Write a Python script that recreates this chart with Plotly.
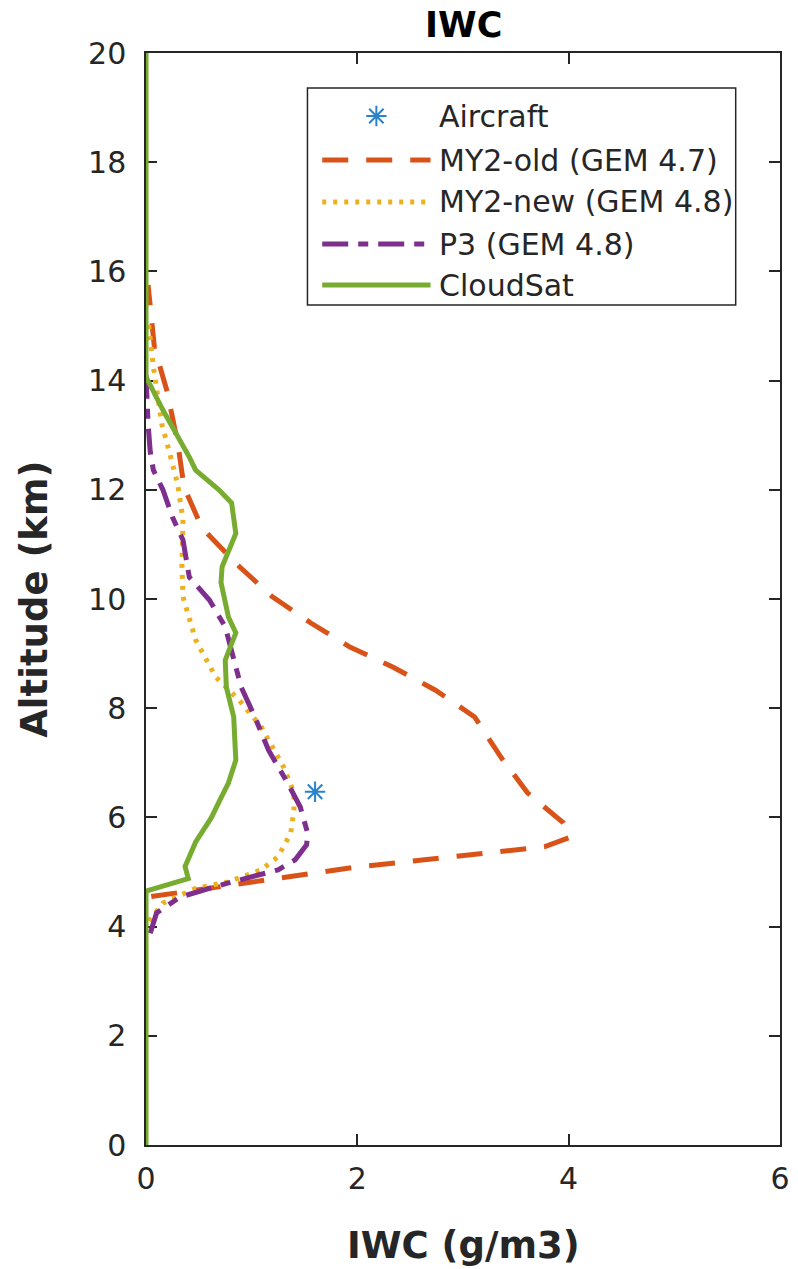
import plotly.graph_objects as go

# ---- vertical IWC profiles (altitude in km, IWC in g/m3) ----
cloudsat_alt = [0, 4.65, 4.88, 5.1, 5.55, 6.0, 6.32, 6.63, 7.05, 7.84, 8.39, 8.88,
                9.38, 9.67, 10.3, 10.59, 11.2, 11.76, 12.0, 12.36, 12.6, 13.46, 14.07, 20]
cloudsat_iwc = [0, 0, 0.40, 0.37, 0.47, 0.62, 0.70, 0.78, 0.85, 0.83, 0.76, 0.75,
                0.85, 0.78, 0.71, 0.72, 0.85, 0.81, 0.69, 0.47, 0.41, 0.16, 0.0, 0]

my2old_alt = [4.55, 4.85, 4.98, 5.09, 5.18, 5.28, 5.37, 5.46, 5.64, 5.9, 6.45, 7.1,
              7.84, 8.33, 8.75, 9.12, 9.56, 10.05, 10.6, 11.3, 12.05, 12.86, 13.8, 14.6, 15.75]
my2old_iwc = [0.05, 1.09, 1.56, 1.99, 2.43, 2.86, 3.33, 3.77, 4.02, 3.95, 3.61, 3.36,
              3.11, 2.74, 2.34, 1.93, 1.56, 1.19, 0.88, 0.53, 0.36, 0.30, 0.20, 0.08, 0.02]

my2new_alt = [4.1, 4.43, 4.7, 4.82, 5.04, 5.28, 5.71, 6.14, 6.45, 6.93, 7.66, 8.15,
              8.57, 9.25, 10.04, 10.6, 11.45, 12.1, 12.7, 13.2, 14.25, 15.1]
my2new_iwc = [0.03, 0.16, 0.47, 0.78, 1.09, 1.25, 1.37, 1.40, 1.40, 1.30, 1.09, 0.88,
              0.66, 0.47, 0.35, 0.34, 0.35, 0.30, 0.22, 0.15, 0.07, 0.02]

p3_alt = [3.88, 4.25, 4.54, 4.8, 5.04, 5.22, 5.5, 5.71, 6.19, 6.63, 7.23, 7.84,
          8.39, 9.07, 9.49, 9.98, 10.4, 11.08, 11.5, 12.0, 12.36, 12.7, 13.2, 14.1]
p3_iwc = [0.04, 0.10, 0.32, 0.78, 1.25, 1.41, 1.52, 1.53, 1.46, 1.34, 1.16, 1.03,
          0.90, 0.81, 0.75, 0.60, 0.41, 0.35, 0.25, 0.16, 0.07, 0.04, 0.02, 0.0]

aircraft_alt = [6.47]
aircraft_iwc = [1.6]

x_ticks = [0, 2, 4, 6]
y_ticks = list(range(0, 21, 2))

series_names = ["Aircraft", "MY2-old (GEM 4.7)", "MY2-new (GEM 4.8)", "P3 (GEM 4.8)", "CloudSat"]

# ---- styling ----
BLUE, ORANGE, YELLOW, PURPLE, GREEN = "#2a82cc", "#D95319", "#EDB120", "#7E2F8E", "#77AC30"
AXIS = "#262626"
FONT = "DejaVu Sans"
W, H = 798, 1269
ML, MR, MT, MB = 146, 8, 53, 124
DASH_OLD = "26px,18px"
DASH_NEW = "4px,7px"
DASH_P3 = "26px,10px,10px,10px"
LW = 5


def px_x(p):
    return (p - ML) / (W - ML - MR)


def px_y(p):
    return (H - MB - p) / (H - MT - MB)


fig = go.Figure()

common = dict(mode="lines", showlegend=False, cliponaxis=False, hoverinfo="skip")
fig.add_trace(go.Scatter(x=my2old_iwc, y=my2old_alt, line=dict(color=ORANGE, width=LW, dash=DASH_OLD), **common))
fig.add_trace(go.Scatter(x=my2new_iwc, y=my2new_alt, line=dict(color=YELLOW, width=LW, dash=DASH_NEW), **common))
fig.add_trace(go.Scatter(x=p3_iwc, y=p3_alt, line=dict(color=PURPLE, width=LW, dash=DASH_P3), **common))
fig.add_trace(go.Scatter(x=cloudsat_iwc, y=cloudsat_alt, line=dict(color=GREEN, width=LW), **common))

star = dict(symbol="asterisk-open", size=17, color=BLUE, line=dict(color=BLUE, width=2))
fig.add_trace(go.Scatter(x=aircraft_iwc, y=aircraft_alt, mode="markers", showlegend=False,
                         cliponaxis=False, marker=star))

# ---- legend box (drawn in paper space) ----
box_l, box_r, box_t, box_b = 310, 745, 88, 305
fig.add_shape(type="rect", xref="paper", yref="paper",
              x0=px_x(box_l), x1=px_x(box_r), y0=px_y(box_b), y1=px_y(box_t),
              line=dict(color=AXIS, width=1.5), fillcolor="white", layer="below")
row_y = [116, 160, 202, 244, 285]
sample_x0, sample_x1, text_x = 325, 435, 442
styles = [None,
          dict(color=ORANGE, width=LW, dash=DASH_OLD),
          dict(color=YELLOW, width=LW, dash=DASH_NEW),
          dict(color=PURPLE, width=LW, dash=DASH_P3),
          dict(color=GREEN, width=LW)]
for name, ry, st in zip(series_names, row_y, styles):
    if st is not None:
        fig.add_shape(type="line", xref="paper", yref="paper",
                      x0=px_x(sample_x0), x1=px_x(sample_x1), y0=px_y(ry), y1=px_y(ry),
                      line=st, layer="above")
    fig.add_annotation(xref="paper", yref="paper", x=px_x(text_x), y=px_y(ry),
                       text=name, showarrow=False, xanchor="left", yanchor="middle",
                       font=dict(family=FONT, size=30, color=AXIS))

# legend marker on an overlay axis spanning the plot area
fig.add_trace(go.Scatter(x=[px_x(380)], y=[px_y(row_y[0])], xaxis="x2", yaxis="y2",
                         mode="markers", showlegend=False, cliponaxis=False, hoverinfo="skip",
                         marker=star))

# ---- titles ----
fig.add_annotation(xref="paper", yref="paper", x=0.5, y=px_y(25), text="<b>IWC</b>",
                   showarrow=False, xanchor="center", yanchor="middle",
                   font=dict(family=FONT, size=35, color="#000000"))
fig.add_annotation(xref="paper", yref="paper", x=0.5, y=px_y(1245), text="<b>IWC (g/m3)</b>",
                   showarrow=False, xanchor="center", yanchor="middle",
                   font=dict(family=FONT, size=37, color=AXIS))
fig.add_annotation(xref="paper", yref="paper", x=px_x(32), y=0.5, text="<b>Altitude (km)</b>",
                   showarrow=False, xanchor="center", yanchor="middle", textangle=-90,
                   font=dict(family=FONT, size=37, color=AXIS))

axis_common = dict(showline=True, linecolor=AXIS, linewidth=1.5, mirror="ticks",
                   ticks="inside", ticklen=11, tickwidth=1.5, tickcolor=AXIS,
                   showgrid=False, zeroline=False, layer="below traces",
                   tickfont=dict(family=FONT, size=30, color=AXIS))

fig.update_layout(
    width=W, height=H,
    margin=dict(l=ML, r=MR, t=MT, b=MB, pad=0),
    paper_bgcolor="white", plot_bgcolor="white",
    xaxis=dict(range=[0, 6], tickvals=x_ticks, ticklabelstandoff=6, **axis_common),
    yaxis=dict(range=[0, 20], tickvals=y_ticks, ticklabelstandoff=12, **axis_common),
    xaxis2=dict(overlaying="x", range=[0, 1], visible=False),
    yaxis2=dict(overlaying="y", range=[0, 1], visible=False),
)

fig.write_html("out.html")
